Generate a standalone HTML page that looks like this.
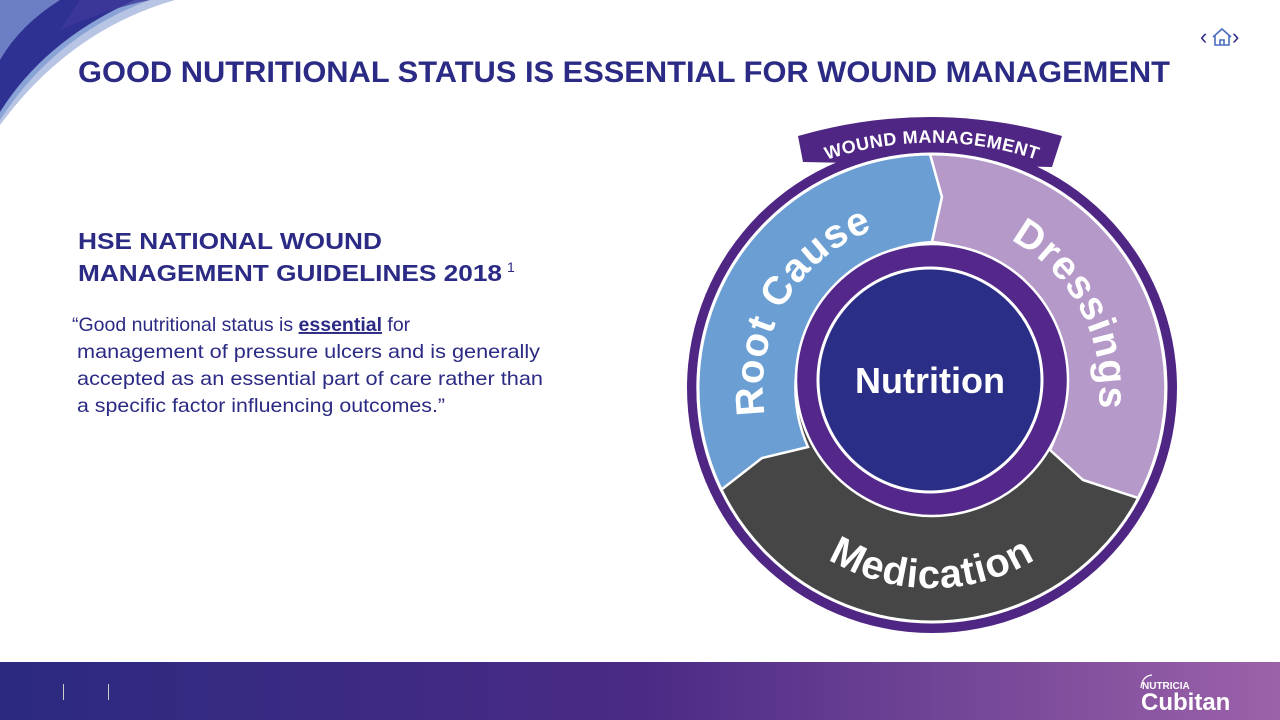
<!DOCTYPE html>
<html><head><meta charset="utf-8"><style>
html,body{margin:0;padding:0;width:1280px;height:720px;overflow:hidden;background:#fff}
svg{display:block}
text{font-family:"Liberation Sans",sans-serif}
</style></head><body>
<svg width="1280" height="720" viewBox="0 0 1280 720" xmlns="http://www.w3.org/2000/svg">
<defs>
<linearGradient id="bar" x1="0" x2="1" y1="0" y2="0">
<stop offset="0" stop-color="#2b2a7f"/><stop offset="0.5" stop-color="#4a2a85"/><stop offset="1" stop-color="#9c62a9"/>
</linearGradient>
<path id="rc" d="M801.4,494.9 A168,168 0 0 1 961,222.5"/>
<path id="dr" d="M908.6,222 A168,168 0 0 1 1054.9,502.6"/>
<path id="md" d="M744,456.4 A200,200 0 0 0 1120,456.4"/>
<path id="wm" d="M796,172 A330,330 0 0 1 1068,172"/>
</defs>
<!-- swoosh -->
<path d="M0,0 L175,0 Q70,30 0,125 Z" fill="#b8c4e4"/>
<path d="M0,0 L150,0 Q55,35 0,120 Z" fill="#8aa3d6"/>
<path d="M0,0 L135,0 Q45,40 0,112 Z" fill="#2e3192"/>
<path d="M0,0 L60,0 Q20,25 0,60 Z" fill="#6c7fc4"/>
<path d="M80,0 L150,0 Q110,8 60,30 Z" fill="#3d3a9a" opacity="0.8"/>
<!-- nav -->
<text x="1200" y="44" font-size="22" fill="#2b2a84">‹</text>
<text x="1232" y="44" font-size="22" fill="#2b2a84">›</text>
<path d="M1213,37 L1222,29 L1231,37 M1215,35 V45 H1229 V35 M1220,45 V40 H1224 V45" fill="none" stroke="#4a6ec0" stroke-width="1.6"/>
<!-- title -->
<text x="78" y="82" font-size="30" font-weight="bold" fill="#2b2a84" textLength="1092" lengthAdjust="spacingAndGlyphs">GOOD NUTRITIONAL STATUS IS ESSENTIAL FOR WOUND MANAGEMENT</text>
<text x="78" y="249" font-size="23" font-weight="bold" fill="#2b2a84" textLength="304" lengthAdjust="spacingAndGlyphs">HSE NATIONAL WOUND</text>
<text x="78" y="281" font-size="23" font-weight="bold" fill="#2b2a84" textLength="424" lengthAdjust="spacingAndGlyphs">MANAGEMENT GUIDELINES 2018</text>
<text x="507" y="272" font-size="14" fill="#2b2a84">1</text>
<g font-size="19.5" fill="#2b2a84">
<text x="72" y="331">“Good nutritional status is <tspan font-weight="bold" text-decoration="underline">essential</tspan> for</text>
<text x="77" y="358" textLength="463" lengthAdjust="spacingAndGlyphs">management of pressure ulcers and is generally</text>
<text x="77" y="385" textLength="466" lengthAdjust="spacingAndGlyphs">accepted as an essential part of care rather than</text>
<text x="77" y="412" textLength="368" lengthAdjust="spacingAndGlyphs">a specific factor influencing outcomes.”</text>
</g>
<!-- diagram -->
<path d="M803,162 L798,136 Q930,98 1062,136 L1052,167 Z" fill="#4f2683"/>
<circle cx="932" cy="388" r="245" fill="#4f2683"/>
<circle cx="932" cy="388" r="234" fill="#464646"/>
<path d="M721,490 A234,234 0 0 1 930,154 L942,197 L932,242 A146,146 0 0 0 808,447 L762,458 Z" fill="#6b9fd3" stroke="#fff" stroke-width="2.5"/>
<path d="M930,154 A234,234 0 0 1 1138,498 L1083,480 L1050,450 A146,146 0 0 0 932,242 L942,197 Z" fill="#b59ac9" stroke="#fff" stroke-width="2.5"/>
<circle cx="932" cy="388" r="234" fill="none" stroke="#fff" stroke-width="3"/>
<circle cx="932" cy="380" r="136" fill="#54278a" stroke="#fff" stroke-width="2.5"/>
<circle cx="930" cy="380" r="112" fill="#2b2e86" stroke="#fff" stroke-width="3"/>
<text x="930" y="393" font-size="36" font-weight="bold" fill="#fff" text-anchor="middle">Nutrition</text>
<g font-weight="bold" fill="#fff">
<text font-size="40" letter-spacing="1"><textPath href="#rc" startOffset="50%" text-anchor="middle">Root Cause</textPath></text>
<text font-size="40" letter-spacing="1"><textPath href="#dr" startOffset="50%" text-anchor="middle">Dressings</textPath></text>
<text font-size="40" letter-spacing="1"><textPath href="#md" startOffset="50%" text-anchor="middle">Medication</textPath></text>
<text font-size="18" letter-spacing="0.5"><textPath href="#wm" startOffset="50%" text-anchor="middle">WOUND MANAGEMENT</textPath></text>
</g>
<!-- bottom bar -->
<rect x="0" y="662" width="1280" height="58" fill="url(#bar)"/>
<line x1="63.5" y1="684" x2="63.5" y2="700" stroke="#ccc" stroke-width="1"/>
<line x1="108.5" y1="684" x2="108.5" y2="700" stroke="#ccc" stroke-width="1"/>
<path d="M1141,688 Q1142,676 1152,675" fill="none" stroke="#fff" stroke-width="1.2"/>
<text x="1142" y="689" font-size="10" font-weight="bold" fill="#fff">NUTRICIA</text>
<text x="1141" y="710" font-size="24" font-weight="bold" fill="#fff">Cubitan</text>
</svg>
</body></html>
